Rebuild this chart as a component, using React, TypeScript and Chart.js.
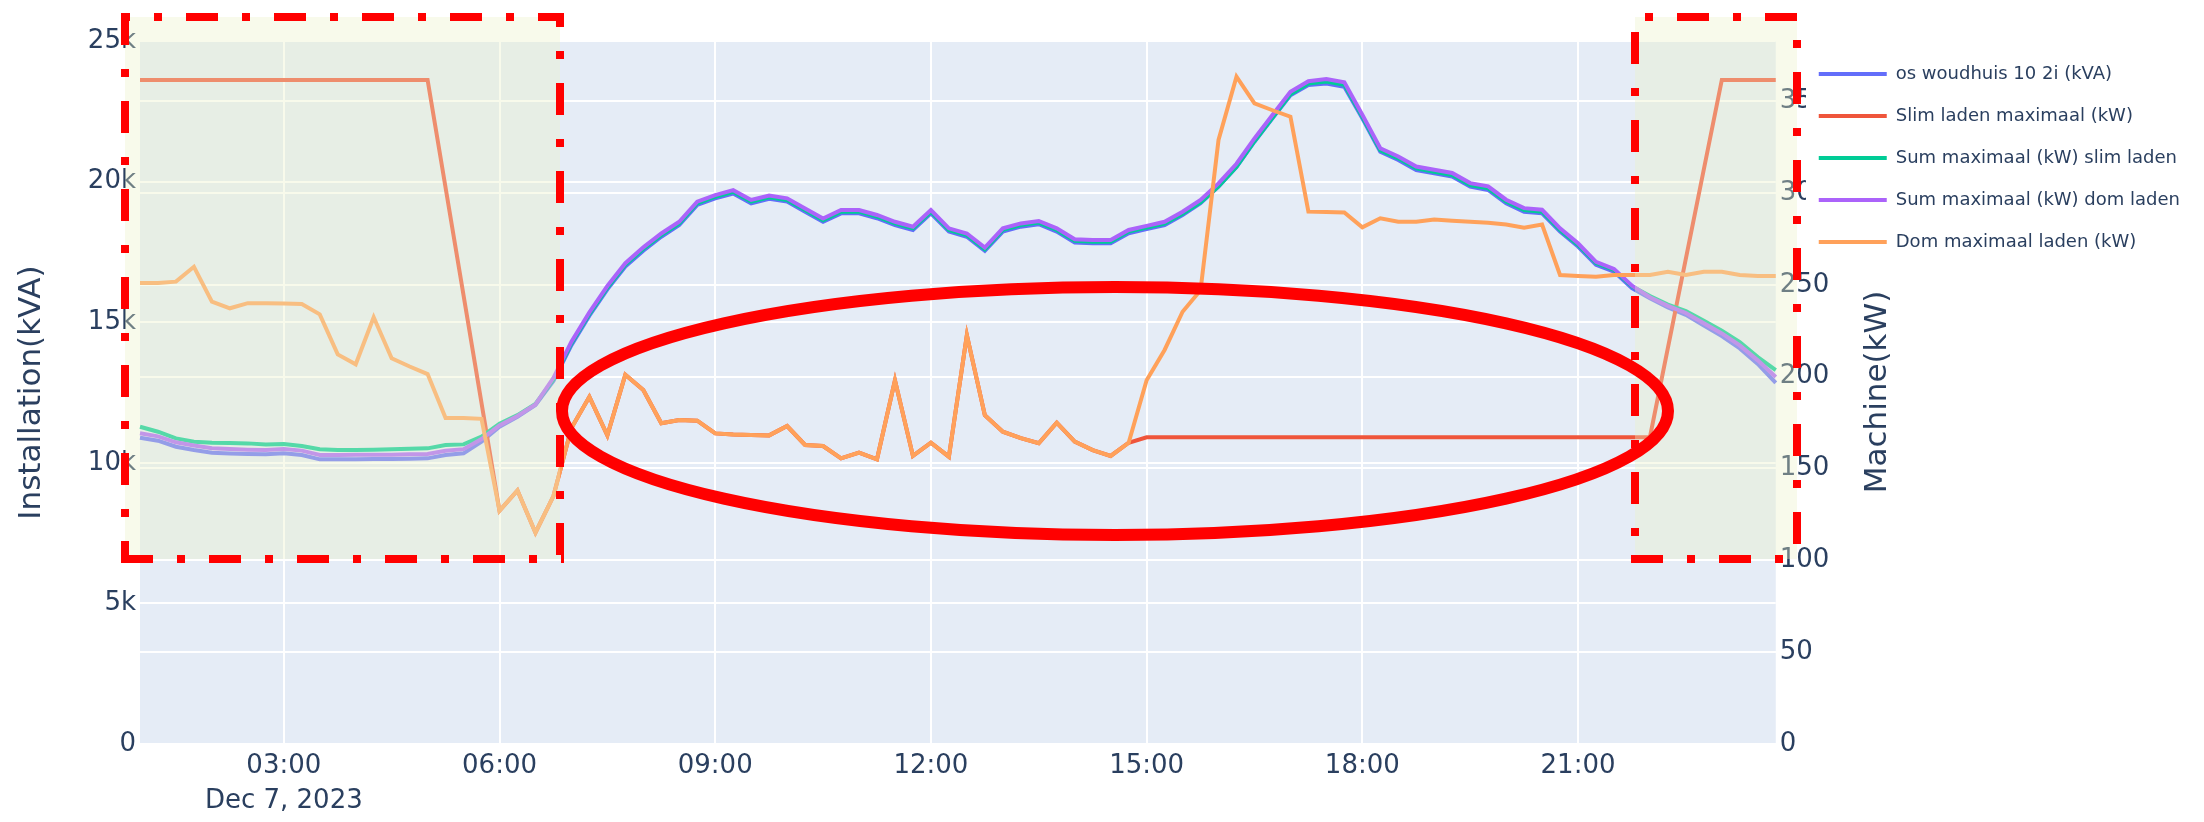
import React, { useEffect, useRef } from 'react';
import { Chart, registerables } from 'chart.js';

Chart.register(...registerables);

// ---------- data ----------
const times = [
  '01:00', '01:15', '01:30', '01:45', '02:00', '02:15', '02:30', '02:45',
  '03:00', '03:15', '03:30', '03:45', '04:00', '04:15', '04:30', '04:45',
  '05:00', '05:15', '05:30', '05:45', '06:00', '06:15', '06:30', '06:45',
  '07:00', '07:15', '07:30', '07:45', '08:00', '08:15', '08:30', '08:45',
  '09:00', '09:15', '09:30', '09:45', '10:00', '10:15', '10:30', '10:45',
  '11:00', '11:15', '11:30', '11:45', '12:00', '12:15', '12:30', '12:45',
  '13:00', '13:15', '13:30', '13:45', '14:00', '14:15', '14:30', '14:45',
  '15:00', '15:15', '15:30', '15:45', '16:00', '16:15', '16:30', '16:45',
  '17:00', '17:15', '17:30', '17:45', '18:00', '18:15', '18:30', '18:45',
  '19:00', '19:15', '19:30', '19:45', '20:00', '20:15', '20:30', '20:45',
  '21:00', '21:15', '21:30', '21:45', '22:00', '22:15', '22:30', '22:45',
  '23:00', '23:15', '23:30', '23:45',
];

const xTickLabels = ['03:00', '06:00', '09:00', '12:00', '15:00', '18:00', '21:00'];
const dateLabel = 'Dec 7, 2023';
const leftTickLabels = ['0', '5k', '10k', '15k', '20k', '25k'];
const rightTickLabels = ['0', '50', '100', '150', '200', '250', '300', '350'];

const woudhuisKVA = [
  11249, 11139, 10919, 10797, 10698, 10670, 10650, 10638,
  10675, 10613, 10455, 10455, 10460, 10466, 10466, 10480,
  10491, 10613, 10675, 11102, 11653, 12020, 12450, 13330,
  14650, 15730, 16700, 17540, 18120, 18630, 19060, 19800,
  20040, 20220, 19860, 20020, 19920, 19550, 19180, 19490,
  19490, 19310, 19060, 18880, 19490, 18820, 18630, 18110,
  18820, 19000, 19090, 18820, 18420, 18390, 18390, 18760,
  18910, 19060, 19430, 19860, 20470, 21190, 22120, 22980,
  23830, 24200, 24260, 24140, 22980, 21750, 21450, 21080,
  20960, 20840, 20470, 20350, 19860, 19550, 19490, 18820,
  18270, 17600, 17350, 16740, 16370, 16030, 15760, 15370,
  14980, 14530, 13960, 13260,
];

const slimLadenKW = [
  361.5, 361.5, 361.5, 361.5, 361.5, 361.5, 361.5, 361.5,
  361.5, 361.5, 361.5, 361.5, 361.5, 361.5, 361.5, 361.5,
  361.5, null, null, null, 127, 138, 115, 135,
  172, 189, 168, 201, 192.7, 174.6, 176.4, 176,
  169.1, 168.5, 168.2, 168, 173.1, 162.8, 162.2, 155.5,
  158.6, 155, 198, 156.8, 164, 156.4, 222.6, 179,
  170, 166.5, 163.7, 174.9, 164.6, 160, 156.8, 164,
  167, 167, 167, 167, 167, 167, 167, 167,
  167, 167, 167, 167, 167, 167, 167, 167,
  167, 167, 167, 167, 167, 167, 167, 167,
  167, 167, 167, 167, 167, null, null, null,
  361.5, 361.5, 361.5, 361.5,
];

const sumSlimKW = [
  11653, 11469, 11225, 11102, 11065, 11053, 11041, 11004,
  11016, 10944, 10822, 10797, 10797, 10809, 10822, 10846,
  10858, 10980, 11004, 11286, 11760, 12080, 12490, 13390,
  14710, 15790, 16760, 17600, 18180, 18690, 19120, 19860,
  20100, 20280, 19920, 20080, 19980, 19610, 19240, 19550,
  19550, 19370, 19120, 18940, 19550, 18880, 18690, 18170,
  18880, 19060, 19150, 18880, 18480, 18450, 18450, 18820,
  18970, 19110, 19470, 19890, 20480, 21200, 22140, 23000,
  23860, 24260, 24330, 24210, 23040, 21810, 21510, 21140,
  21020, 20900, 20530, 20410, 19920, 19610, 19550, 18880,
  18330, 17660, 17410, 16810, 16450, 16140, 15900, 15540,
  15180, 14760, 14210, 13735,
];

const sumDomKW = [
  11410, 11300, 11080, 10960, 10860, 10830, 10810, 10800,
  10835, 10775, 10615, 10615, 10620, 10625, 10625, 10640,
  10650, 10770, 10830, 11200, 11700, 12050, 12470, 13450,
  14770, 15850, 16820, 17660, 18240, 18750, 19180, 19920,
  20160, 20340, 19980, 20140, 20040, 19670, 19300, 19610,
  19610, 19430, 19180, 19000, 19610, 18940, 18750, 18230,
  18940, 19120, 19210, 18940, 18540, 18510, 18510, 18880,
  19030, 19180, 19550, 19980, 20590, 21310, 22240, 23100,
  23950, 24340, 24420, 24300, 23110, 21880, 21580, 21210,
  21090, 20970, 20600, 20480, 19990, 19680, 19620, 18940,
  18390, 17710, 17450, 16830, 16410, 16090, 15830, 15450,
  15080, 14640, 14090, 13480,
];

const domLadenKW = [
  251, 251, 251.7, 259.8, 240.8, 237.2, 240, 240,
  239.8, 239.5, 233.9, 212.1, 206.7, 232.3, 210, 205.5,
  201.4, 177.5, 177.5, 177, 127, 138, 115, 135,
  172, 189, 168, 201, 192.7, 174.6, 176.4, 176,
  169.1, 168.5, 168.2, 168, 173.1, 162.8, 162.2, 155.5,
  158.6, 155, 198, 156.8, 164, 156.4, 222.6, 179,
  170, 166.5, 163.7, 174.9, 164.6, 160, 156.8, 164,
  198, 214.5, 235.3, 247, 328.8, 363.3, 348.7, 345,
  341.5, 289.8, 289.6, 289.4, 281.3, 286.2, 284.3, 284.3,
  285.5, 284.8, 284.3, 283.7, 282.8, 281, 282.8, 255.3,
  254.8, 254.4, 255.3, 255.3, 255.3, 257.1, 255.3, 257.1,
  257.1, 255.3, 254.8, 254.8,
];

// ---------- styling ----------
const FONT = "'DejaVu Sans', Verdana, sans-serif";
const TEXT = '#2a3f5f';
const W = 2204;
const H = 822;

const annotationPlugin = {
  id: 'plotlyLook',
  beforeDraw(chart: any) {
    const { ctx, chartArea: a } = chart;
    ctx.save();
    ctx.fillStyle = '#E5ECF6';
    ctx.fillRect(a.left, a.top, a.right - a.left, a.bottom - a.top);
    ctx.restore();
    const lg = chart.legend;
    if (lg && !lg.__bgWrapped) {
      const orig = lg.draw.bind(lg);
      lg.draw = (...args: any[]) => {
        const c = chart.ctx;
        c.save();
        c.fillStyle = '#ffffff';
        c.fillRect(1806, 46, W - 1806, 218);
        c.restore();
        orig(...args);
      };
      lg.__bgWrapped = true;
    }
  },
  afterDraw(chart: any) {
    const { ctx } = chart;
    ctx.save();
    // shaded highlight regions
    ctx.fillStyle = 'rgba(235,240,200,0.36)';
    ctx.fillRect(125, 17, 560 - 125, 559 - 17);
    ctx.fillRect(1635, 17, 1797 - 1635, 559 - 17);
    // dash-dot borders
    ctx.strokeStyle = '#ff0000';
    ctx.lineWidth = 8;
    ctx.lineCap = 'butt';
    ctx.setLineDash([32, 24, 8, 24]);
    const edge = (x0: number, y0: number, x1: number, y1: number, off: number) => {
      ctx.lineDashOffset = off;
      ctx.beginPath();
      ctx.moveTo(x0, y0);
      ctx.lineTo(x1, y1);
      ctx.stroke();
    };
    edge(121, 17, 564, 17, 23);
    edge(125, 17, 125, 559, 4);
    edge(560, 17, 560, 559, 22);
    edge(121, 559, 564, 559, 0);
    edge(1631, 17, 1801, 17, 42);
    edge(1635, 17, 1635, 559, 73);
    edge(1797, 17, 1797, 559, 33);
    edge(1631, 559, 1801, 559, 0);
    // ellipse
    ctx.setLineDash([]);
    ctx.lineWidth = 12;
    ctx.beginPath();
    ctx.ellipse(1115, 411, 553, 124, 0, 0, Math.PI * 2);
    ctx.stroke();
    // right axis title
    ctx.fillStyle = TEXT;
    ctx.font = `31px ${FONT}`;
    ctx.textAlign = 'center';
    ctx.textBaseline = 'middle';
    ctx.translate(1878, 392);
    ctx.rotate(-Math.PI / 2);
    ctx.fillText('Machine(kW)', 0, 0);
    ctx.restore();
  },
};

export default function App() {
  const ref = useRef<HTMLCanvasElement>(null);

  useEffect(() => {
    const canvas = ref.current;
    if (!canvas) return;
    const common = { pointRadius: 0, borderWidth: 4, fill: false, tension: 0 };
    const chart = new Chart(canvas, {
      type: 'line',
      data: {
        labels: times,
        datasets: [
          { ...common, label: 'os woudhuis 10 2i (kVA)', data: woudhuisKVA, yAxisID: 'y', borderColor: '#636efa', backgroundColor: '#636efa', order: 5 },
          { ...common, label: 'Slim laden maximaal (kW)', data: slimLadenKW, yAxisID: 'y1', borderColor: '#EF553B', backgroundColor: '#EF553B', order: 4, spanGaps: true },
          { ...common, label: 'Sum maximaal (kW) slim laden', data: sumSlimKW, yAxisID: 'y', borderColor: '#00cc96', backgroundColor: '#00cc96', order: 3 },
          { ...common, label: 'Sum maximaal (kW) dom laden', data: sumDomKW, yAxisID: 'y', borderColor: '#ab63fa', backgroundColor: '#ab63fa', order: 2 },
          { ...common, label: 'Dom maximaal laden (kW)', data: domLadenKW, yAxisID: 'y1', borderColor: '#FFA15A', backgroundColor: '#FFA15A', order: 1 },
        ] as any,
      },
      options: {
        responsive: false,
        animation: false,
        devicePixelRatio: 1,
        layout: { padding: { top: 41, right: 14, bottom: 0, left: 0 } },
        plugins: {
          tooltip: { enabled: false },
          legend: {
            position: 'right',
            align: 'start',
            maxWidth: 440,
            labels: {
              usePointStyle: true,
              pointStyle: 'line',
              pointStyleWidth: 68,
              boxHeight: 18,
              padding: 24,
              color: TEXT,
              font: { family: FONT, size: 18 },
              sort: (a: any, b: any) => a.datasetIndex - b.datasetIndex,
            },
          },
        },
        scales: {
          x: {
            type: 'category',
            grid: { color: '#ffffff', lineWidth: 2, drawTicks: false },
            border: { display: false },
            afterBuildTicks: (scale: any) => {
              scale.ticks = scale.ticks.filter((t: any) => xTickLabels.includes(times[t.value]));
            },
            afterFit: (scale: any) => { scale.height = H - 744; },
            ticks: {
              autoSkip: false,
              maxRotation: 0,
              minRotation: 0,
              padding: 5,
              color: TEXT,
              font: { family: FONT, size: 26, lineHeight: 1.35 },
              callback: (value: any) => {
                const lbl = times[value as number];
                return lbl === xTickLabels[0] ? [lbl, dateLabel] : lbl;
              },
            },
          },
          y: {
            type: 'linear',
            position: 'left',
            min: 0,
            max: 25819,
            grid: { color: '#ffffff', lineWidth: 2, drawTicks: false },
            border: { display: false },
            afterFit: (scale: any) => { scale.width = 140; },
            title: {
              display: true,
              text: 'Installation(kVA)',
              color: TEXT,
              font: { family: FONT, size: 31 },
              padding: { top: 13, bottom: 0 },
            },
            ticks: {
              stepSize: 5000,
              includeBounds: false,
              padding: 4,
              color: TEXT,
              font: { family: FONT, size: 26 },
              callback: (value: any) => leftTickLabels[Math.round(Number(value) / 5000)] ?? '',
            },
          },
          y1: {
            type: 'linear',
            position: 'right',
            min: 0,
            max: 382.7,
            grid: { color: '#ffffff', lineWidth: 2, drawTicks: false },
            border: { display: false },
            afterFit: (scale: any) => {
              scale.width = 19;
              scale._computeLabelArea = () => undefined;
            },
            ticks: {
              stepSize: 50,
              includeBounds: false,
              padding: 4,
              z: -1,
              color: TEXT,
              font: { family: FONT, size: 26 },
              callback: (value: any) => rightTickLabels[Math.round(Number(value) / 50)] ?? '',
            },
          },
        } as any,
      },
      plugins: [annotationPlugin],
    });
    return () => chart.destroy();
  }, []);

  return (
    <div style={{ position: 'fixed', left: 0, top: 0, width: W, height: H, background: '#ffffff' }}>
      <canvas ref={ref} width={W} height={H} style={{ width: `${W}px`, height: `${H}px`, display: 'block' }} />
    </div>
  );
}
